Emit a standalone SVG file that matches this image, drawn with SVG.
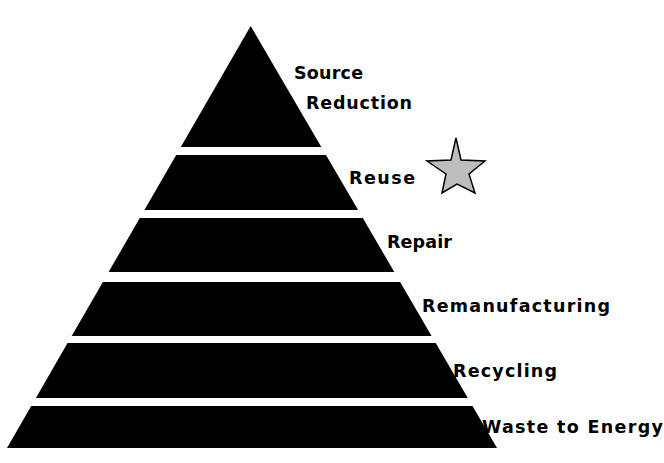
<svg xmlns="http://www.w3.org/2000/svg" width="664" height="463" viewBox="0 0 664 463">
  <style>
    .band { fill: #000000; }
    .lbl { font-family: "DejaVu Sans", "Liberation Sans", sans-serif; font-weight: bold; font-size: 17.5px; fill: #000000; }
    .star { fill: #bdbdbd; stroke: #000000; stroke-width: 1.5; stroke-linejoin: miter; }
  </style>
  <rect x="0" y="0" width="664" height="463" fill="#ffffff"/>
  <g id="level-source-reduction">
    <polygon class="band" points="250.7,26 321.3,147 180.8,147"/>
    <text class="lbl" x="294" y="79" textLength="69" lengthAdjust="spacing">Source</text>
    <text class="lbl" x="306" y="109" textLength="106" lengthAdjust="spacing">Reduction</text>
  </g>
  <g id="level-reuse">
    <polygon class="band" points="176.2,155 326.0,155 358.1,210 144.4,210"/>
    <text class="lbl" x="349" y="184" textLength="66" lengthAdjust="spacing">Reuse</text>
  </g>
  <g id="star">
    <polygon class="star" points="456,138 461,160 485,161 469,174 475,193 457,184 442,193 446,174 427,161 451,160"/>
  </g>
  <g id="level-repair">
    <polygon class="band" points="139.8,218 362.8,218 394.3,272 108.6,272"/>
    <text class="lbl" x="387" y="248" textLength="65" lengthAdjust="spacing">Repair</text>
  </g>
  <g id="level-remanufacturing">
    <polygon class="band" points="102.9,282 400.1,282 431.6,336 71.7,336"/>
    <text class="lbl" x="422" y="312" textLength="188" lengthAdjust="spacing">Remanufacturing</text>
  </g>
  <g id="level-recycling">
    <polygon class="band" points="67.6,343 435.7,343 467.8,398 35.9,398"/>
    <text class="lbl" x="453" y="377" textLength="104" lengthAdjust="spacing">Recycling</text>
  </g>
  <g id="level-waste-to-energy">
    <polygon class="band" points="31.2,406 472.5,406 497,448 7,448"/>
    <text class="lbl" x="482" y="433" textLength="181" lengthAdjust="spacing">Waste to Energy</text>
  </g>
  <g id="connectors"></g>
</svg>
